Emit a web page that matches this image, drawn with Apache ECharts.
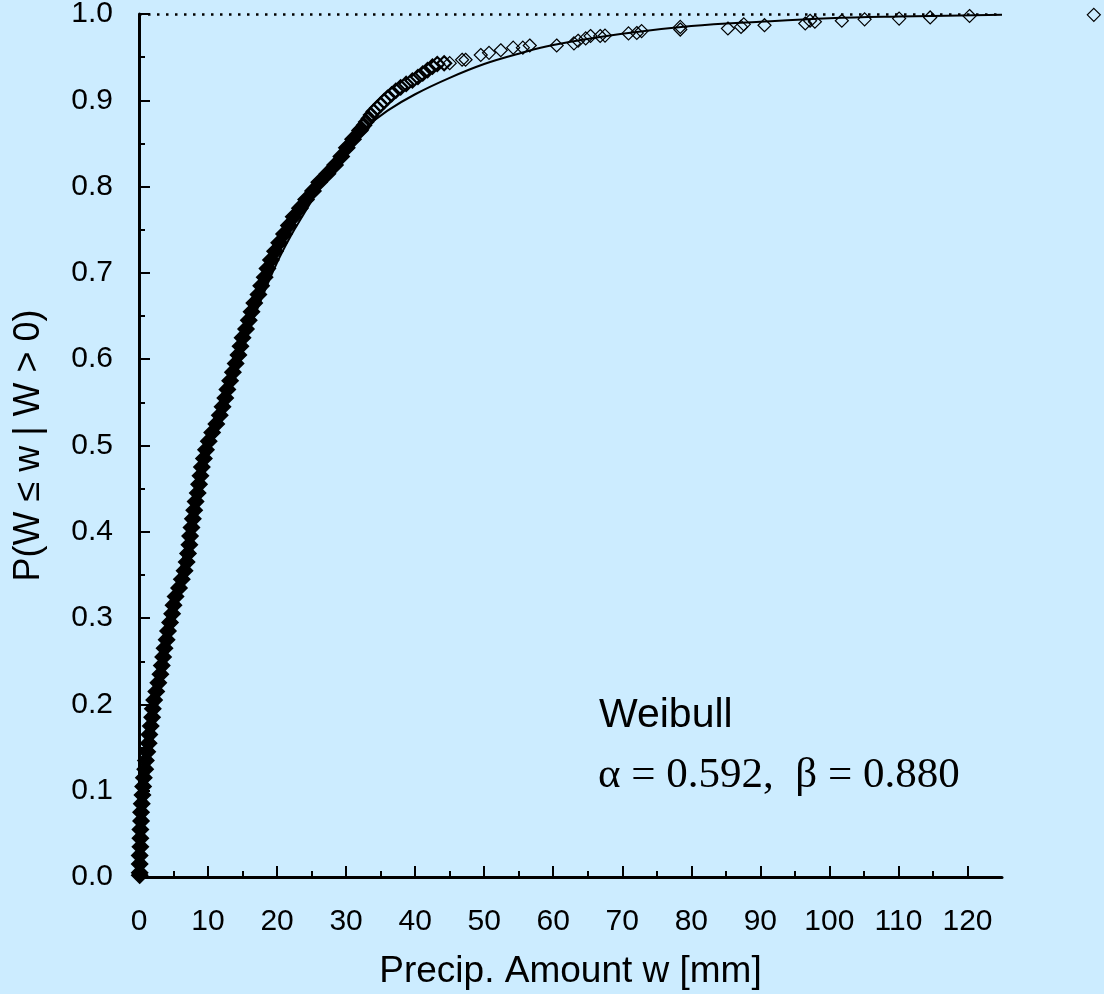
<!DOCTYPE html>
<html>
<head>
<meta charset="utf-8">
<title>Weibull fit</title>
<script src="https://cdn.jsdelivr.net/npm/echarts@6/dist/echarts.min.js"></script>
<style>
  html, body { margin: 0; padding: 0; background: #CCECFF; }
  #chart { width: 1104px; height: 994px; }
</style>
</head>
<body>
<div id="chart"></div>
<script>
// empirical points, lower part (so dense they merge into a solid band)
var denseW = [0.1, 0.1, 0.1, 0.1, 0.2, 0.2, 0.2, 0.3, 0.3, 0.4, 0.5, 0.6, 0.7, 0.9, 1.0, 1.2, 1.4, 1.5, 1.7, 1.9,
  2.0, 2.2, 2.5, 2.8, 3.1, 3.3, 3.5, 3.7, 4.0, 4.2, 4.5, 4.8, 5.0, 5.3, 5.8, 6.2, 6.6, 6.9, 7.1, 7.3,
  7.4, 7.6, 7.8, 8.0, 8.2, 8.5, 8.7, 8.9, 9.1, 9.4, 9.7, 10.1, 10.6, 11.2, 11.7, 12.1, 12.5, 12.8, 13.2, 13.6,
  14.0, 14.4, 14.7, 15.0, 15.5, 15.9, 16.3, 16.7, 17.3, 17.7, 18.2, 18.6, 19.1, 19.7, 20.3, 21.0, 21.7, 22.4, 23.3, 24.2,
  25.2, 26.1, 27.3, 28.4, 29.3, 30.1, 31.0, 32.0];
var denseP = [0.002, 0.005, 0.015, 0.025, 0.035, 0.045, 0.055, 0.065, 0.075, 0.085, 0.095, 0.105, 0.115, 0.125, 0.135, 0.145, 0.155, 0.165, 0.175, 0.185,
  0.195, 0.205, 0.215, 0.225, 0.235, 0.245, 0.255, 0.265, 0.275, 0.285, 0.295, 0.305, 0.315, 0.325, 0.335, 0.345, 0.355, 0.365, 0.375, 0.385,
  0.395, 0.405, 0.415, 0.425, 0.435, 0.445, 0.455, 0.465, 0.475, 0.485, 0.495, 0.505, 0.515, 0.525, 0.535, 0.545, 0.555, 0.565, 0.575, 0.585,
  0.595, 0.605, 0.615, 0.625, 0.635, 0.645, 0.655, 0.665, 0.675, 0.685, 0.695, 0.705, 0.715, 0.725, 0.735, 0.745, 0.755, 0.765, 0.775, 0.785,
  0.795, 0.805, 0.815, 0.825, 0.835, 0.845, 0.855, 0.865];

// empirical points, 32-44 mm
var midW = [32.2, 32.6, 32.9, 33.3, 33.6, 34.0, 34.5, 35.0, 35.5, 36.0, 36.6, 37.2, 37.9, 38.7, 39.6, 40.4, 41.1, 41.8, 42.5, 43.2, 44.2];
var midP = [0.867, 0.871, 0.875, 0.879, 0.883, 0.887, 0.891, 0.895, 0.899, 0.903, 0.907, 0.911, 0.915, 0.919, 0.923, 0.927, 0.931, 0.935, 0.939, 0.942, 0.943];

// empirical points, upper tail
var tailW = [45.0, 46.8, 47.3, 49.5, 50.7, 52.4, 54.2, 55.6, 56.6, 60.5, 63.0, 63.6, 64.7, 65.4, 66.8, 67.5,
  70.9, 72.1, 72.8, 78.4, 78.4, 85.3, 87.2, 87.6, 90.6, 96.5, 97.2, 97.9, 101.8, 105.1, 110.1, 114.6, 120.3, 138.3];
var tailP = [0.943, 0.947, 0.947, 0.9525, 0.955, 0.958, 0.961, 0.961, 0.9635, 0.9635, 0.966, 0.969, 0.9717, 0.9745, 0.9745, 0.975,
  0.9775, 0.978, 0.9802, 0.982, 0.985, 0.9832, 0.985, 0.988, 0.987, 0.989, 0.9922, 0.991, 0.9922, 0.9938, 0.9947, 0.996, 0.9977, 0.999];

// fitted Weibull curve
var fitW = [0, 0.1, 0.3, 0.6, 1.0, 1.5, 2.0, 3.0, 4.0, 5.0, 6.0, 7.0, 8.0, 9.0, 10, 12, 14, 16, 18, 20,
  22, 24, 26, 28, 30, 33, 36, 40, 45, 50, 55, 60, 70, 80, 90, 100, 110, 125];
var fitP = [0, 0.016, 0.040, 0.070, 0.100, 0.135, 0.165, 0.220, 0.270, 0.315, 0.355, 0.390, 0.425, 0.460, 0.490, 0.545, 0.590, 0.635, 0.675, 0.712,
  0.743, 0.770, 0.797, 0.822, 0.843, 0.869, 0.888, 0.907, 0.926, 0.942, 0.954, 0.964, 0.977, 0.986, 0.991, 0.995, 0.997, 0.999];

// ticks
var xMajor = [0, 10, 20, 30, 40, 50, 60, 70, 80, 90, 100, 110, 120];
var xMinor = [5, 15, 25, 35, 45, 55, 65, 75, 85, 95, 105, 115];

var chart = echarts.init(document.getElementById('chart'));

function zip(a, b) {
  var out = [];
  for (var i = 0; i < a.length; i++) out.push([a[i], b[i]]);
  return out;
}

var font = 'Liberation Sans, Arial, sans-serif';

var option = {
  animation: false,
  backgroundColor: '#CCECFF',
  grid: {
    left: 139, top: 14, right: 102, bottom: 117,
    containLabel: false,
    outerBoundsMode: 'none'
  },
  xAxis: [{
    type: 'value',
    min: 0, max: 125,
    name: 'Precip. Amount w [mm]',
    nameLocation: 'middle',
    nameGap: 76,
    nameTextStyle: { fontFamily: font, fontSize: 37, color: '#000' },
    axisLine: { show: true, onZero: false, lineStyle: { color: '#000', width: 3 } },
    axisTick: { show: true, inside: true, length: 11, customValues: xMajor, lineStyle: { color: '#000', width: 2 } },
    axisLabel: { customValues: xMajor, margin: 30, fontFamily: font, fontSize: 30, color: '#000' },
    splitLine: { show: false }
  }, {
    // minor ticks at 5, 15, ...
    type: 'value',
    min: 0, max: 125,
    position: 'bottom',
    axisLine: { show: false },
    axisTick: { show: true, inside: true, length: 6, customValues: xMinor, lineStyle: { color: '#000', width: 2 } },
    axisLabel: { show: false },
    splitLine: { show: false }
  }],
  yAxis: {
    type: 'value',
    min: 0, max: 1, interval: 0.1,
    name: 'P(W \u2264 w | W > 0)',
    nameLocation: 'middle',
    nameGap: 92,
    nameTextStyle: { fontFamily: font, fontSize: 36, color: '#000' },
    axisLine: { show: true, lineStyle: { color: '#000', width: 3 } },
    axisTick: { show: true, inside: true, length: 11, lineStyle: { color: '#000', width: 2 } },
    minorTick: { show: true, splitNumber: 2, length: 6, lineStyle: { color: '#000', width: 2 } },
    axisLabel: {
      margin: 26, fontFamily: font, fontSize: 30, color: '#000',
      formatter: function (v) { return v.toFixed(1); }
    },
    splitLine: { show: false }
  },
  series: [{
    type: 'line',
    data: zip(fitW, fitP),
    smooth: 0.4,
    symbol: 'none',
    lineStyle: { color: '#000', width: 2 },
    z: 3,
    markLine: {
      silent: true,
      symbol: 'none',
      label: { show: false },
      lineStyle: { color: '#000', width: 2.5, type: [2.5, 6.5] },
      data: [{ yAxis: 1 }]
    }
  }, {
    type: 'scatter',
    data: zip(denseW, denseP),
    symbol: 'diamond',
    symbolSize: 16,
    itemStyle: { color: '#000', borderColor: '#000', borderWidth: 1.5, opacity: 1 },
    z: 4
  }, {
    type: 'scatter',
    data: zip(midW, midP),
    symbol: 'diamond',
    symbolSize: 14,
    itemStyle: { color: 'transparent', borderColor: '#000', borderWidth: 2.2, opacity: 1 },
    z: 4
  }, {
    type: 'scatter',
    data: zip(tailW, tailP),
    symbol: 'diamond',
    symbolSize: 13,
    clip: false,
    itemStyle: { color: 'transparent', borderColor: '#000', borderWidth: 1.2, opacity: 1 },
    z: 4
  }],
  graphic: [{
    type: 'text',
    left: 599, top: 695,
    style: { text: 'Weibull', fontFamily: font, fontSize: 41, fill: '#000' }
  }, {
    type: 'text',
    left: 598, top: 754,
    style: { text: '\u03b1 = 0.592,  \u03b2 = 0.880', fontFamily: 'Liberation Serif, Times New Roman, serif', fontSize: 43, fill: '#000' }
  }]
};

chart.setOption(option);
</script>
</body>
</html>
